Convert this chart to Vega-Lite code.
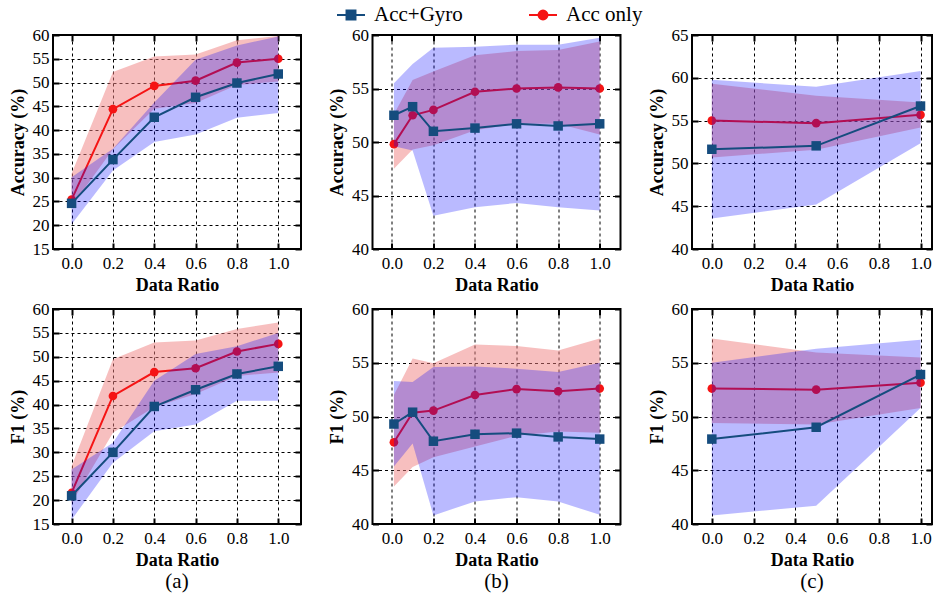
{
  "$schema": "https://vega.github.io/schema/vega-lite/v6.json",
  "background": "white",
  "padding": {"left": 8, "top": 0, "right": 5, "bottom": 5},
  "datasets": {
    "d": [
      {"p":"a1","s":"Acc+Gyro","x":0.0,"y":24.6,"lo":20.2,"hi":30.1},
      {"p":"a1","s":"Acc+Gyro","x":0.2,"y":33.8,"lo":31.5,"hi":36.1},
      {"p":"a1","s":"Acc+Gyro","x":0.4,"y":42.7,"lo":37.5,"hi":45.8},
      {"p":"a1","s":"Acc+Gyro","x":0.6,"y":46.9,"lo":39.1,"hi":54.8},
      {"p":"a1","s":"Acc+Gyro","x":0.8,"y":49.9,"lo":42.6,"hi":57.8},
      {"p":"a1","s":"Acc+Gyro","x":1.0,"y":51.8,"lo":43.6,"hi":59.7},
      {"p":"a1","s":"Acc only","x":0.0,"y":25.4,"lo":24.0,"hi":30.8},
      {"p":"a1","s":"Acc only","x":0.2,"y":44.4,"lo":36.0,"hi":52.2},
      {"p":"a1","s":"Acc only","x":0.4,"y":49.3,"lo":44.5,"hi":55.5},
      {"p":"a1","s":"Acc only","x":0.6,"y":50.4,"lo":45.7,"hi":55.9},
      {"p":"a1","s":"Acc only","x":0.8,"y":54.2,"lo":49.5,"hi":58.9},
      {"p":"a1","s":"Acc only","x":1.0,"y":55.0,"lo":50.2,"hi":59.8},

      {"p":"b1","s":"Acc+Gyro","x":0.01,"y":52.5,"lo":49.6,"hi":55.5},
      {"p":"b1","s":"Acc+Gyro","x":0.1,"y":53.3,"lo":49.2,"hi":57.3},
      {"p":"b1","s":"Acc+Gyro","x":0.2,"y":51.0,"lo":43.1,"hi":58.8},
      {"p":"b1","s":"Acc+Gyro","x":0.4,"y":51.3,"lo":43.9,"hi":58.9},
      {"p":"b1","s":"Acc+Gyro","x":0.6,"y":51.7,"lo":44.3,"hi":59.1},
      {"p":"b1","s":"Acc+Gyro","x":0.8,"y":51.5,"lo":43.9,"hi":59.1},
      {"p":"b1","s":"Acc+Gyro","x":1.0,"y":51.7,"lo":43.6,"hi":59.75},
      {"p":"b1","s":"Acc only","x":0.01,"y":49.8,"lo":47.5,"hi":52.6},
      {"p":"b1","s":"Acc only","x":0.1,"y":52.5,"lo":49.3,"hi":55.8},
      {"p":"b1","s":"Acc only","x":0.2,"y":53.0,"lo":49.7,"hi":56.6},
      {"p":"b1","s":"Acc only","x":0.4,"y":54.7,"lo":51.1,"hi":58.1},
      {"p":"b1","s":"Acc only","x":0.6,"y":55.0,"lo":51.7,"hi":58.5},
      {"p":"b1","s":"Acc only","x":0.8,"y":55.1,"lo":51.7,"hi":58.6},
      {"p":"b1","s":"Acc only","x":1.0,"y":55.0,"lo":50.7,"hi":59.4},

      {"p":"c1","s":"Acc+Gyro","x":0.0,"y":51.65,"lo":43.55,"hi":59.77},
      {"p":"c1","s":"Acc+Gyro","x":0.5,"y":52.05,"lo":45.2,"hi":58.95},
      {"p":"c1","s":"Acc+Gyro","x":1.0,"y":56.7,"lo":52.35,"hi":60.8},
      {"p":"c1","s":"Acc only","x":0.0,"y":55.0,"lo":50.7,"hi":59.3},
      {"p":"c1","s":"Acc only","x":0.5,"y":54.7,"lo":51.6,"hi":57.9},
      {"p":"c1","s":"Acc only","x":1.0,"y":55.67,"lo":54.2,"hi":57.1},

      {"p":"a2","s":"Acc+Gyro","x":0.0,"y":20.9,"lo":15.9,"hi":26.4},
      {"p":"a2","s":"Acc+Gyro","x":0.2,"y":30.0,"lo":27.8,"hi":32.0},
      {"p":"a2","s":"Acc+Gyro","x":0.4,"y":39.6,"lo":34.4,"hi":45.0},
      {"p":"a2","s":"Acc+Gyro","x":0.6,"y":43.1,"lo":35.8,"hi":50.6},
      {"p":"a2","s":"Acc+Gyro","x":0.8,"y":46.4,"lo":40.8,"hi":52.2},
      {"p":"a2","s":"Acc+Gyro","x":1.0,"y":48.0,"lo":40.8,"hi":55.0},
      {"p":"a2","s":"Acc only","x":0.0,"y":21.5,"lo":19.4,"hi":27.1},
      {"p":"a2","s":"Acc only","x":0.2,"y":41.8,"lo":34.1,"hi":49.5},
      {"p":"a2","s":"Acc only","x":0.4,"y":46.8,"lo":39.5,"hi":53.0},
      {"p":"a2","s":"Acc only","x":0.6,"y":47.6,"lo":42.2,"hi":53.4},
      {"p":"a2","s":"Acc only","x":0.8,"y":51.1,"lo":46.0,"hi":55.8},
      {"p":"a2","s":"Acc only","x":1.0,"y":52.7,"lo":46.7,"hi":57.2},

      {"p":"b2","s":"Acc+Gyro","x":0.01,"y":49.3,"lo":45.35,"hi":53.3},
      {"p":"b2","s":"Acc+Gyro","x":0.1,"y":50.4,"lo":47.5,"hi":53.2},
      {"p":"b2","s":"Acc+Gyro","x":0.2,"y":47.7,"lo":40.8,"hi":54.6},
      {"p":"b2","s":"Acc+Gyro","x":0.4,"y":48.35,"lo":42.1,"hi":54.65},
      {"p":"b2","s":"Acc+Gyro","x":0.6,"y":48.45,"lo":42.5,"hi":54.45},
      {"p":"b2","s":"Acc+Gyro","x":0.8,"y":48.1,"lo":42.1,"hi":54.15},
      {"p":"b2","s":"Acc+Gyro","x":1.0,"y":47.9,"lo":40.85,"hi":55.0},
      {"p":"b2","s":"Acc only","x":0.01,"y":47.6,"lo":43.5,"hi":52.0},
      {"p":"b2","s":"Acc only","x":0.1,"y":50.35,"lo":45.3,"hi":55.4},
      {"p":"b2","s":"Acc only","x":0.2,"y":50.55,"lo":46.2,"hi":54.95},
      {"p":"b2","s":"Acc only","x":0.4,"y":52.0,"lo":47.2,"hi":56.7},
      {"p":"b2","s":"Acc only","x":0.6,"y":52.55,"lo":48.2,"hi":56.55},
      {"p":"b2","s":"Acc only","x":0.8,"y":52.35,"lo":48.6,"hi":56.15},
      {"p":"b2","s":"Acc only","x":1.0,"y":52.6,"lo":48.5,"hi":57.25},

      {"p":"c2","s":"Acc+Gyro","x":0.0,"y":47.9,"lo":40.8,"hi":55.0},
      {"p":"c2","s":"Acc+Gyro","x":0.5,"y":49.0,"lo":41.7,"hi":56.3},
      {"p":"c2","s":"Acc+Gyro","x":1.0,"y":53.9,"lo":50.8,"hi":57.15},
      {"p":"c2","s":"Acc only","x":0.0,"y":52.6,"lo":49.4,"hi":57.25},
      {"p":"c2","s":"Acc only","x":0.5,"y":52.5,"lo":49.25,"hi":55.95},
      {"p":"c2","s":"Acc only","x":1.0,"y":53.15,"lo":50.8,"hi":55.5}
    ]
  },
  "data": {"name": "d"},
  "columns": 3,
  "spacing": {"row": 60, "column": 71.5},
  "bounds": "flush",
  "concat": [
    {
      "width": 248, "height": 214,
      "transform": [{"filter": "datum.p == 'a1'"}],
      "layer": [
        {"transform": [{"filter": "datum.s == 'Acc only'"}], "mark": {"type": "area", "color": "#f08080", "opacity": 0.5},
         "encoding": {"x": {"field": "x", "type": "quantitative", "scale": {"domain": [-0.09, 1.11], "nice": false, "zero": false}, "axis": {"values": [0, 0.2, 0.4, 0.6, 0.8, 1], "format": ".1f", "title": "Data Ratio"}},
                      "y": {"field": "lo", "type": "quantitative", "scale": {"domain": [15, 60], "nice": false, "zero": false}, "axis": {"values": [15,20,25,30,35,40,45,50,55,60], "title": "Accuracy (%)"}},
                      "y2": {"field": "hi"}}},
        {"transform": [{"filter": "datum.s == 'Acc only'"}], "mark": {"type": "line", "color": "#f51414", "strokeWidth": 2},
         "encoding": {"x": {"field": "x", "type": "quantitative", "axis": null}, "y": {"field": "y", "type": "quantitative", "axis": null}}},
        {"transform": [{"filter": "datum.s == 'Acc only'"}], "mark": {"type": "point", "shape": "circle", "filled": true, "color": "#f51414", "size": 75, "opacity": 1},
         "encoding": {"x": {"field": "x", "type": "quantitative", "axis": null}, "y": {"field": "y", "type": "quantitative", "axis": null}}},
        {"transform": [{"filter": "datum.s == 'Acc+Gyro'"}], "mark": {"type": "area", "color": "#0000ff", "opacity": 0.27},
         "encoding": {"x": {"field": "x", "type": "quantitative", "axis": null}, "y": {"field": "lo", "type": "quantitative", "axis": null}, "y2": {"field": "hi"}}},
        {"transform": [{"filter": "datum.s == 'Acc+Gyro'"}], "mark": {"type": "line", "color": "#154c7e", "strokeWidth": 2},
         "encoding": {"x": {"field": "x", "type": "quantitative", "axis": null}, "y": {"field": "y", "type": "quantitative", "axis": null}}},
        {"transform": [{"filter": "datum.s == 'Acc+Gyro'"}], "mark": {"type": "point", "shape": "square", "filled": true, "color": "#154c7e", "size": 90, "opacity": 1},
         "encoding": {"x": {"field": "x", "type": "quantitative", "axis": null}, "y": {"field": "y", "type": "quantitative", "axis": null}}},
        {"mark": {"type": "point", "opacity": 0},
         "encoding": {"x": {"field": "x", "type": "quantitative", "axis": {"orient": "top", "labels": false, "grid": false, "title": null, "values": [0, 0.2, 0.4, 0.6, 0.8, 1]}},
                      "y": {"field": "y", "type": "quantitative", "axis": {"orient": "right", "labels": false, "grid": false, "title": null, "values": [15,20,25,30,35,40,45,50,55,60]}}}}
      ],
      "resolve": {"axis": {"x": "independent", "y": "independent"}}
    },
    {
      "width": 248, "height": 214,
      "transform": [{"filter": "datum.p == 'b1'"}],
      "layer": [
        {"transform": [{"filter": "datum.s == 'Acc only'"}], "mark": {"type": "area", "color": "#f08080", "opacity": 0.5},
         "encoding": {"x": {"field": "x", "type": "quantitative", "scale": {"domain": [-0.093, 1.1], "nice": false, "zero": false}, "axis": {"values": [0, 0.2, 0.4, 0.6, 0.8, 1], "format": ".1f", "title": "Data Ratio"}},
                      "y": {"field": "lo", "type": "quantitative", "scale": {"domain": [40, 60], "nice": false, "zero": false}, "axis": {"values": [40,45,50,55,60], "title": "Accuracy (%)"}},
                      "y2": {"field": "hi"}}},
        {"transform": [{"filter": "datum.s == 'Acc only'"}], "mark": {"type": "line", "color": "#f51414", "strokeWidth": 2},
         "encoding": {"x": {"field": "x", "type": "quantitative", "axis": null}, "y": {"field": "y", "type": "quantitative", "axis": null}}},
        {"transform": [{"filter": "datum.s == 'Acc only'"}], "mark": {"type": "point", "shape": "circle", "filled": true, "color": "#f51414", "size": 75, "opacity": 1},
         "encoding": {"x": {"field": "x", "type": "quantitative", "axis": null}, "y": {"field": "y", "type": "quantitative", "axis": null}}},
        {"transform": [{"filter": "datum.s == 'Acc+Gyro'"}], "mark": {"type": "area", "color": "#0000ff", "opacity": 0.27},
         "encoding": {"x": {"field": "x", "type": "quantitative", "axis": null}, "y": {"field": "lo", "type": "quantitative", "axis": null}, "y2": {"field": "hi"}}},
        {"transform": [{"filter": "datum.s == 'Acc+Gyro'"}], "mark": {"type": "line", "color": "#154c7e", "strokeWidth": 2},
         "encoding": {"x": {"field": "x", "type": "quantitative", "axis": null}, "y": {"field": "y", "type": "quantitative", "axis": null}}},
        {"transform": [{"filter": "datum.s == 'Acc+Gyro'"}], "mark": {"type": "point", "shape": "square", "filled": true, "color": "#154c7e", "size": 90, "opacity": 1},
         "encoding": {"x": {"field": "x", "type": "quantitative", "axis": null}, "y": {"field": "y", "type": "quantitative", "axis": null}}},
        {"mark": {"type": "point", "opacity": 0},
         "encoding": {"x": {"field": "x", "type": "quantitative", "axis": {"orient": "top", "labels": false, "grid": false, "title": null, "values": [0, 0.2, 0.4, 0.6, 0.8, 1]}},
                      "y": {"field": "y", "type": "quantitative", "axis": {"orient": "right", "labels": false, "grid": false, "title": null, "values": [40,45,50,55,60]}}}},
        {"transform": [{"filter": "datum.x > 5"}], "mark": {"type": "point", "filled": true},
         "encoding": {"x": {"field": "x", "type": "quantitative", "axis": null}, "y": {"field": "y", "type": "quantitative", "axis": null},
                      "color": {"field": "s", "type": "nominal", "scale": {"domain": ["Acc+Gyro", "Acc only"], "range": ["#154c7e", "#f51414"]},
                                "legend": {"title": null, "orient": "none", "legendX": 283, "legendY": -35, "direction": "horizontal", "labelFont": "Liberation Serif", "labelFontSize": 21, "labelColor": "black", "symbolSize": 784, "symbolStrokeWidth": 2, "labelOffset": 8, "columnPadding": 62, "symbolOpacity": 1,
                                           "encode": {"symbols": {"update": {"stroke": {"scale": "color", "field": "value"}, "strokeWidth": {"value": 2}}}}}},
                      "shape": {"field": "s", "type": "nominal", "scale": {"domain": ["Acc+Gyro", "Acc only"], "range": ["M-1,0H1M-0.32,-0.32H0.32V0.32H-0.32Z", "M-1,0H1M0.32,0A0.32,0.32,0,1,1,-0.32,0A0.32,0.32,0,1,1,0.32,0Z"]}}}}
      ],
      "resolve": {"axis": {"x": "independent", "y": "independent"}}
    },
    {
      "width": 240, "height": 214,
      "transform": [{"filter": "datum.p == 'c1'"}],
      "layer": [
        {"transform": [{"filter": "datum.s == 'Acc only'"}], "mark": {"type": "area", "color": "#f08080", "opacity": 0.5},
         "encoding": {"x": {"field": "x", "type": "quantitative", "scale": {"domain": [-0.095, 1.055], "nice": false, "zero": false}, "axis": {"values": [0, 0.2, 0.4, 0.6, 0.8, 1], "format": ".1f", "title": "Data Ratio"}},
                      "y": {"field": "lo", "type": "quantitative", "scale": {"domain": [40, 65], "nice": false, "zero": false}, "axis": {"values": [40,45,50,55,60,65], "title": "Accuracy (%)"}},
                      "y2": {"field": "hi"}}},
        {"transform": [{"filter": "datum.s == 'Acc only'"}], "mark": {"type": "line", "color": "#f51414", "strokeWidth": 2},
         "encoding": {"x": {"field": "x", "type": "quantitative", "axis": null}, "y": {"field": "y", "type": "quantitative", "axis": null}}},
        {"transform": [{"filter": "datum.s == 'Acc only'"}], "mark": {"type": "point", "shape": "circle", "filled": true, "color": "#f51414", "size": 75, "opacity": 1},
         "encoding": {"x": {"field": "x", "type": "quantitative", "axis": null}, "y": {"field": "y", "type": "quantitative", "axis": null}}},
        {"transform": [{"filter": "datum.s == 'Acc+Gyro'"}], "mark": {"type": "area", "color": "#0000ff", "opacity": 0.27},
         "encoding": {"x": {"field": "x", "type": "quantitative", "axis": null}, "y": {"field": "lo", "type": "quantitative", "axis": null}, "y2": {"field": "hi"}}},
        {"transform": [{"filter": "datum.s == 'Acc+Gyro'"}], "mark": {"type": "line", "color": "#154c7e", "strokeWidth": 2},
         "encoding": {"x": {"field": "x", "type": "quantitative", "axis": null}, "y": {"field": "y", "type": "quantitative", "axis": null}}},
        {"transform": [{"filter": "datum.s == 'Acc+Gyro'"}], "mark": {"type": "point", "shape": "square", "filled": true, "color": "#154c7e", "size": 90, "opacity": 1},
         "encoding": {"x": {"field": "x", "type": "quantitative", "axis": null}, "y": {"field": "y", "type": "quantitative", "axis": null}}},
        {"mark": {"type": "point", "opacity": 0},
         "encoding": {"x": {"field": "x", "type": "quantitative", "axis": {"orient": "top", "labels": false, "grid": false, "title": null, "values": [0, 0.2, 0.4, 0.6, 0.8, 1]}},
                      "y": {"field": "y", "type": "quantitative", "axis": {"orient": "right", "labels": false, "grid": false, "title": null, "values": [40,45,50,55,60,65]}}}}
      ],
      "resolve": {"axis": {"x": "independent", "y": "independent"}}
    },
    {
      "width": 248, "height": 215,
      "title": {"text": "(a)", "orient": "bottom", "font": "Liberation Serif", "fontSize": 21, "fontWeight": "normal", "color": "black", "offset": 2},
      "transform": [{"filter": "datum.p == 'a2'"}],
      "layer": [
        {"transform": [{"filter": "datum.s == 'Acc only'"}], "mark": {"type": "area", "color": "#f08080", "opacity": 0.5},
         "encoding": {"x": {"field": "x", "type": "quantitative", "scale": {"domain": [-0.09, 1.11], "nice": false, "zero": false}, "axis": {"values": [0, 0.2, 0.4, 0.6, 0.8, 1], "format": ".1f", "title": "Data Ratio"}},
                      "y": {"field": "lo", "type": "quantitative", "scale": {"domain": [15, 60], "nice": false, "zero": false}, "axis": {"values": [15,20,25,30,35,40,45,50,55,60], "title": "F1 (%)"}},
                      "y2": {"field": "hi"}}},
        {"transform": [{"filter": "datum.s == 'Acc only'"}], "mark": {"type": "line", "color": "#f51414", "strokeWidth": 2},
         "encoding": {"x": {"field": "x", "type": "quantitative", "axis": null}, "y": {"field": "y", "type": "quantitative", "axis": null}}},
        {"transform": [{"filter": "datum.s == 'Acc only'"}], "mark": {"type": "point", "shape": "circle", "filled": true, "color": "#f51414", "size": 75, "opacity": 1},
         "encoding": {"x": {"field": "x", "type": "quantitative", "axis": null}, "y": {"field": "y", "type": "quantitative", "axis": null}}},
        {"transform": [{"filter": "datum.s == 'Acc+Gyro'"}], "mark": {"type": "area", "color": "#0000ff", "opacity": 0.27},
         "encoding": {"x": {"field": "x", "type": "quantitative", "axis": null}, "y": {"field": "lo", "type": "quantitative", "axis": null}, "y2": {"field": "hi"}}},
        {"transform": [{"filter": "datum.s == 'Acc+Gyro'"}], "mark": {"type": "line", "color": "#154c7e", "strokeWidth": 2},
         "encoding": {"x": {"field": "x", "type": "quantitative", "axis": null}, "y": {"field": "y", "type": "quantitative", "axis": null}}},
        {"transform": [{"filter": "datum.s == 'Acc+Gyro'"}], "mark": {"type": "point", "shape": "square", "filled": true, "color": "#154c7e", "size": 90, "opacity": 1},
         "encoding": {"x": {"field": "x", "type": "quantitative", "axis": null}, "y": {"field": "y", "type": "quantitative", "axis": null}}},
        {"mark": {"type": "point", "opacity": 0},
         "encoding": {"x": {"field": "x", "type": "quantitative", "axis": {"orient": "top", "labels": false, "grid": false, "title": null, "values": [0, 0.2, 0.4, 0.6, 0.8, 1]}},
                      "y": {"field": "y", "type": "quantitative", "axis": {"orient": "right", "labels": false, "grid": false, "title": null, "values": [15,20,25,30,35,40,45,50,55,60]}}}}
      ],
      "resolve": {"axis": {"x": "independent", "y": "independent"}}
    },
    {
      "width": 248, "height": 215,
      "title": {"text": "(b)", "orient": "bottom", "font": "Liberation Serif", "fontSize": 21, "fontWeight": "normal", "color": "black", "offset": 2},
      "transform": [{"filter": "datum.p == 'b2'"}],
      "layer": [
        {"transform": [{"filter": "datum.s == 'Acc only'"}], "mark": {"type": "area", "color": "#f08080", "opacity": 0.5},
         "encoding": {"x": {"field": "x", "type": "quantitative", "scale": {"domain": [-0.093, 1.1], "nice": false, "zero": false}, "axis": {"values": [0, 0.2, 0.4, 0.6, 0.8, 1], "format": ".1f", "title": "Data Ratio"}},
                      "y": {"field": "lo", "type": "quantitative", "scale": {"domain": [40, 60], "nice": false, "zero": false}, "axis": {"values": [40,45,50,55,60], "title": "F1 (%)"}},
                      "y2": {"field": "hi"}}},
        {"transform": [{"filter": "datum.s == 'Acc only'"}], "mark": {"type": "line", "color": "#f51414", "strokeWidth": 2},
         "encoding": {"x": {"field": "x", "type": "quantitative", "axis": null}, "y": {"field": "y", "type": "quantitative", "axis": null}}},
        {"transform": [{"filter": "datum.s == 'Acc only'"}], "mark": {"type": "point", "shape": "circle", "filled": true, "color": "#f51414", "size": 75, "opacity": 1},
         "encoding": {"x": {"field": "x", "type": "quantitative", "axis": null}, "y": {"field": "y", "type": "quantitative", "axis": null}}},
        {"transform": [{"filter": "datum.s == 'Acc+Gyro'"}], "mark": {"type": "area", "color": "#0000ff", "opacity": 0.27},
         "encoding": {"x": {"field": "x", "type": "quantitative", "axis": null}, "y": {"field": "lo", "type": "quantitative", "axis": null}, "y2": {"field": "hi"}}},
        {"transform": [{"filter": "datum.s == 'Acc+Gyro'"}], "mark": {"type": "line", "color": "#154c7e", "strokeWidth": 2},
         "encoding": {"x": {"field": "x", "type": "quantitative", "axis": null}, "y": {"field": "y", "type": "quantitative", "axis": null}}},
        {"transform": [{"filter": "datum.s == 'Acc+Gyro'"}], "mark": {"type": "point", "shape": "square", "filled": true, "color": "#154c7e", "size": 90, "opacity": 1},
         "encoding": {"x": {"field": "x", "type": "quantitative", "axis": null}, "y": {"field": "y", "type": "quantitative", "axis": null}}},
        {"mark": {"type": "point", "opacity": 0},
         "encoding": {"x": {"field": "x", "type": "quantitative", "axis": {"orient": "top", "labels": false, "grid": false, "title": null, "values": [0, 0.2, 0.4, 0.6, 0.8, 1]}},
                      "y": {"field": "y", "type": "quantitative", "axis": {"orient": "right", "labels": false, "grid": false, "title": null, "values": [40,45,50,55,60]}}}}
      ],
      "resolve": {"axis": {"x": "independent", "y": "independent"}}
    },
    {
      "width": 240, "height": 215,
      "title": {"text": "(c)", "orient": "bottom", "font": "Liberation Serif", "fontSize": 21, "fontWeight": "normal", "color": "black", "offset": 2},
      "transform": [{"filter": "datum.p == 'c2'"}],
      "layer": [
        {"transform": [{"filter": "datum.s == 'Acc only'"}], "mark": {"type": "area", "color": "#f08080", "opacity": 0.5},
         "encoding": {"x": {"field": "x", "type": "quantitative", "scale": {"domain": [-0.095, 1.055], "nice": false, "zero": false}, "axis": {"values": [0, 0.2, 0.4, 0.6, 0.8, 1], "format": ".1f", "title": "Data Ratio"}},
                      "y": {"field": "lo", "type": "quantitative", "scale": {"domain": [40, 60], "nice": false, "zero": false}, "axis": {"values": [40,45,50,55,60], "title": "F1 (%)"}},
                      "y2": {"field": "hi"}}},
        {"transform": [{"filter": "datum.s == 'Acc only'"}], "mark": {"type": "line", "color": "#f51414", "strokeWidth": 2},
         "encoding": {"x": {"field": "x", "type": "quantitative", "axis": null}, "y": {"field": "y", "type": "quantitative", "axis": null}}},
        {"transform": [{"filter": "datum.s == 'Acc only'"}], "mark": {"type": "point", "shape": "circle", "filled": true, "color": "#f51414", "size": 75, "opacity": 1},
         "encoding": {"x": {"field": "x", "type": "quantitative", "axis": null}, "y": {"field": "y", "type": "quantitative", "axis": null}}},
        {"transform": [{"filter": "datum.s == 'Acc+Gyro'"}], "mark": {"type": "area", "color": "#0000ff", "opacity": 0.27},
         "encoding": {"x": {"field": "x", "type": "quantitative", "axis": null}, "y": {"field": "lo", "type": "quantitative", "axis": null}, "y2": {"field": "hi"}}},
        {"transform": [{"filter": "datum.s == 'Acc+Gyro'"}], "mark": {"type": "line", "color": "#154c7e", "strokeWidth": 2},
         "encoding": {"x": {"field": "x", "type": "quantitative", "axis": null}, "y": {"field": "y", "type": "quantitative", "axis": null}}},
        {"transform": [{"filter": "datum.s == 'Acc+Gyro'"}], "mark": {"type": "point", "shape": "square", "filled": true, "color": "#154c7e", "size": 90, "opacity": 1},
         "encoding": {"x": {"field": "x", "type": "quantitative", "axis": null}, "y": {"field": "y", "type": "quantitative", "axis": null}}},
        {"mark": {"type": "point", "opacity": 0},
         "encoding": {"x": {"field": "x", "type": "quantitative", "axis": {"orient": "top", "labels": false, "grid": false, "title": null, "values": [0, 0.2, 0.4, 0.6, 0.8, 1]}},
                      "y": {"field": "y", "type": "quantitative", "axis": {"orient": "right", "labels": false, "grid": false, "title": null, "values": [40,45,50,55,60]}}}}
      ],
      "resolve": {"axis": {"x": "independent", "y": "independent"}}
    }
  ],
  "config": {
    "font": "Liberation Serif",
    "view": {"stroke": "black", "strokeWidth": 2},
    "style": {
      "guide-label": {"font": "Liberation Serif", "fill": "black"},
      "guide-title": {"font": "Liberation Serif", "fill": "black"}
    },
    "axis": {
      "labelFont": "Liberation Serif", "labelFontSize": 17, "labelColor": "black",
      "titleFont": "Liberation Serif", "titleFontSize": 18, "titleFontWeight": "bold", "titleColor": "black",
      "domain": false, "grid": true, "gridColor": "black", "gridDash": [3, 3], "gridWidth": 1, "gridOpacity": 1,
      "tickColor": "black", "tickSize": -6, "tickWidth": 2, "labelPadding": 10, "titlePadding": 6
    },
    "axisX": {"labelPadding": 12, "titlePadding": 5, "labelFont": "Liberation Serif", "titleFont": "Liberation Serif"},
    "axisY": {"labelPadding": 10, "titlePadding": 5, "labelFont": "Liberation Serif", "titleFont": "Liberation Serif"},
    "legend": {"labelFont": "Liberation Serif"}
  }
}
